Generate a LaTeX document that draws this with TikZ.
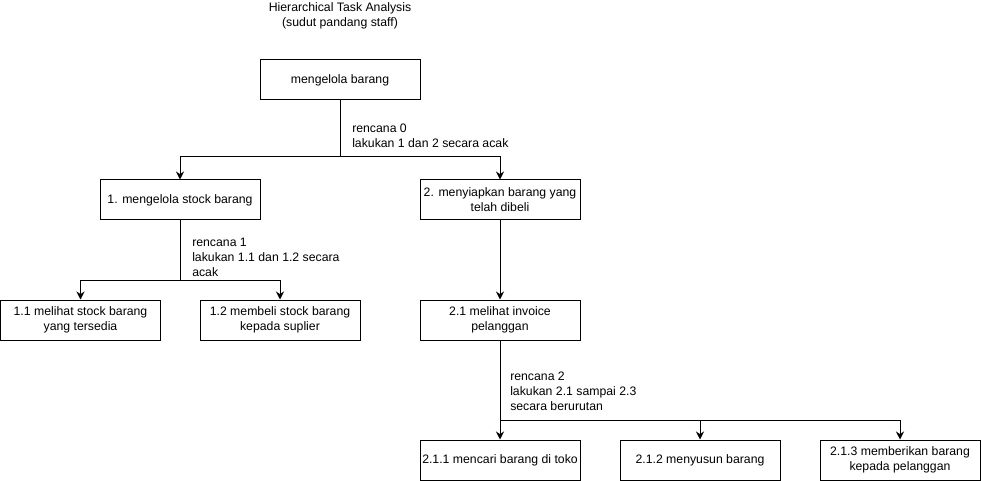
\documentclass[tikz,border=0pt]{standalone}
\usepackage{fontspec}
\setmainfont{Liberation Sans}
\usetikzlibrary{arrows.meta}
\tikzset{
  txt/.style={font=\fontsize{9.2}{11.2}\selectfont},
  task/.style={draw, txt, line width=0.75pt, rectangle, minimum width=120pt, minimum height=30pt, align=center, inner sep=1pt},
  plan/.style={txt, anchor=north west, align=left, inner sep=0pt},
  conn/.style={line width=0.75pt},
  arr/.style={line width=0.75pt, -{Stealth[length=6pt, width=6pt, inset=2pt]}}
}
\begin{document}
\begin{tikzpicture}[x=0.75pt, y=-0.75pt]
\useasboundingbox (0,0) rectangle (982,481);
\node[txt, align=center, inner sep=0pt] (title) at (340,16) {Hierarchical Task Analysis\\(sudut pandang staff)};
\node[task] (t0) at (340,80) {mengelola barang};
\node[task] (t1) at (180,200) {1. mengelola stock barang};
\node[task] (t2) at (500,200) {2. menyiapkan barang yang\\telah dibeli};
\node[task] (t11) at (80.5,320) {1.1 melihat stock barang\\yang tersedia};
\node[task] (t12) at (280,320) {1.2 membeli stock barang\\kepada suplier};
\node[task] (t21) at (500,320) {2.1 melihat invoice\\pelanggan};
\node[task] (t211) at (500,460) {2.1.1 mencari barang di toko};
\node[task] (t212) at (700,460) {2.1.2 menyusun barang};
\node[task] (t213) at (900,460) {2.1.3 memberikan barang\\kepada pelanggan};
\node[plan] (p0) at (352,123.5) {rencana 0\\lakukan 1 dan 2 secara acak};
\node[plan] (p1) at (192,238) {rencana 1\\lakukan 1.1 dan 1.2 secara\\acak};
\node[plan] (p2) at (510,372) {rencana 2\\lakukan 2.1 sampai 2.3\\secara berurutan};
\coordinate (j0) at (340,157);
\coordinate (j1) at (180,280);
\coordinate (j2) at (500,420);
\draw[conn] (t0) -- (j0);
\draw[arr] (j0) -| (t1);
\draw[arr] (j0) -| (t2);
\draw[conn] (t1) -- (j1);
\draw[arr] (j1) -| (t11);
\draw[arr] (j1) -| (t12);
\draw[arr] (t2) -- (t21);
\draw[arr] (t21) -- (t211);
\draw[arr] (j2) -| (t212);
\draw[arr] (j2) -| (t213);
\end{tikzpicture}
\end{document}
